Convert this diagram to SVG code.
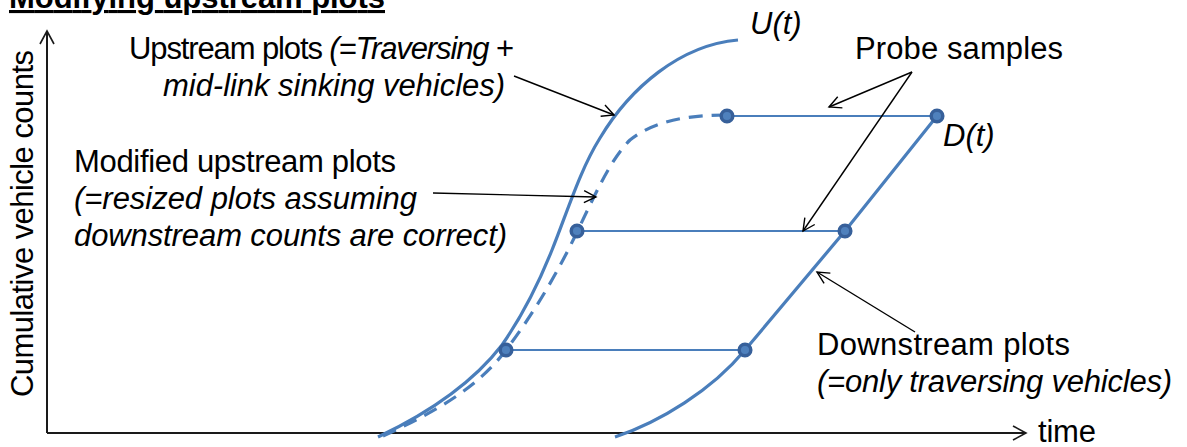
<svg xmlns="http://www.w3.org/2000/svg" width="1187" height="447" viewBox="0 0 1187 447">
<style>
text{font-family:"Liberation Sans",Arial,sans-serif;font-size:31px;fill:#000}
.it{font-style:italic}
.curve{fill:none;stroke:#4a7ebb;stroke-width:3.2}
.dash{stroke-dasharray:14,9}
.hl{fill:none;stroke:#4a7ebb;stroke-width:2}
.dot{fill:#4f81bd;stroke:#37609a;stroke-width:3.5}
.ann{fill:none;stroke:#000;stroke-width:1.4}
.axis{fill:none;stroke:#1a1a1a;stroke-width:2}
</style>
<defs>
<marker id="ah" markerUnits="userSpaceOnUse" markerWidth="16" markerHeight="16" refX="13" refY="7" orient="auto">
<path d="M1,1 L13,7 L1,13" fill="none" stroke="#000" stroke-width="1.4"/>
</marker>
<marker id="axh" markerUnits="userSpaceOnUse" markerWidth="18" markerHeight="18" refX="14" refY="8" orient="auto">
<path d="M1,1 L14,8 L1,15" fill="none" stroke="#1a1a1a" stroke-width="1.6"/>
</marker>
</defs>
<g id="title">
<text x="9" y="8" font-weight="bold" font-size="30" text-decoration="underline" textLength="376" lengthAdjust="spacing">Modifying upstream plots</text>
</g>
<g id="axes">
<line class="axis" x1="47" y1="433" x2="47" y2="31" marker-end="url(#axh)"/>
<line class="axis" x1="47" y1="433" x2="1026" y2="433" marker-end="url(#axh)"/>
<text transform="translate(33,397) rotate(-90)" font-size="30" textLength="347" lengthAdjust="spacing">Cumulative vehicle counts</text>
<text x="1038" y="442" textLength="58" lengthAdjust="spacing">time</text>
</g>
<g id="upstream-curve">
<path class="curve" d="M378,437 C435,410 475,380 502,345 C525,312 540,280 552,250 C568,210 580,170 600,138 C630,88 680,45 738,40"/>
<text class="it" x="750" y="34">U(t)</text>
</g>
<g id="modified-upstream-curve">
<path class="curve dash" d="M383,436 C440,410 480,385 506,350 C535,312 560,268 577,232 C595,195 610,160 630,140 C655,120 690,115 727,115"/>
</g>
<g id="downstream-curve">
<path class="curve" d="M615,437 C660,422 712,390 745,350 L845,231 L937,116"/>
<text class="it" x="943" y="146">D(t)</text>
</g>
<g id="probe-samples">
<line class="hl" x1="506" y1="350" x2="745" y2="350"/>
<line class="hl" x1="577" y1="231" x2="845" y2="231"/>
<line class="hl" x1="727" y1="116" x2="937" y2="116"/>
<circle class="dot" cx="506" cy="350" r="5.8"/>
<circle class="dot" cx="745" cy="350" r="5.8"/>
<circle class="dot" cx="577" cy="231" r="5.8"/>
<circle class="dot" cx="845" cy="231" r="5.8"/>
<circle class="dot" cx="727" cy="116" r="5.8"/>
<circle class="dot" cx="937" cy="116" r="5.8"/>
</g>
<g id="label-upstream">
<text x="129" y="59" textLength="385" lengthAdjust="spacing">Upstream plots <tspan class="it">(=Traversing</tspan> +</text>
<text class="it" x="163" y="96" textLength="342" lengthAdjust="spacing">mid-link sinking vehicles)</text>
</g>
<g id="label-modified">
<text x="74" y="172" textLength="322" lengthAdjust="spacing">Modified upstream plots</text>
<text class="it" x="74" y="209" textLength="343" lengthAdjust="spacing">(=resized plots assuming</text>
<text class="it" x="74" y="246" textLength="433" lengthAdjust="spacing">downstream counts are correct)</text>
</g>
<g id="label-probe">
<text x="855" y="59" textLength="208" lengthAdjust="spacing">Probe samples</text>
</g>
<g id="label-downstream">
<text x="817" y="355" textLength="253" lengthAdjust="spacing">Downstream plots</text>
<text class="it" x="817" y="392" textLength="355" lengthAdjust="spacing">(=only traversing vehicles)</text>
</g>
<g id="connectors">
<line class="ann" x1="514" y1="76" x2="614" y2="115" marker-end="url(#ah)"/>
<line class="ann" x1="433" y1="193" x2="596" y2="197" marker-end="url(#ah)"/>
<line class="ann" x1="912" y1="72" x2="829" y2="107" marker-end="url(#ah)"/>
<line class="ann" x1="912" y1="72" x2="803" y2="231" marker-end="url(#ah)"/>
<line class="ann" x1="915" y1="332" x2="817" y2="272" marker-end="url(#ah)"/>
</g>
</svg>
